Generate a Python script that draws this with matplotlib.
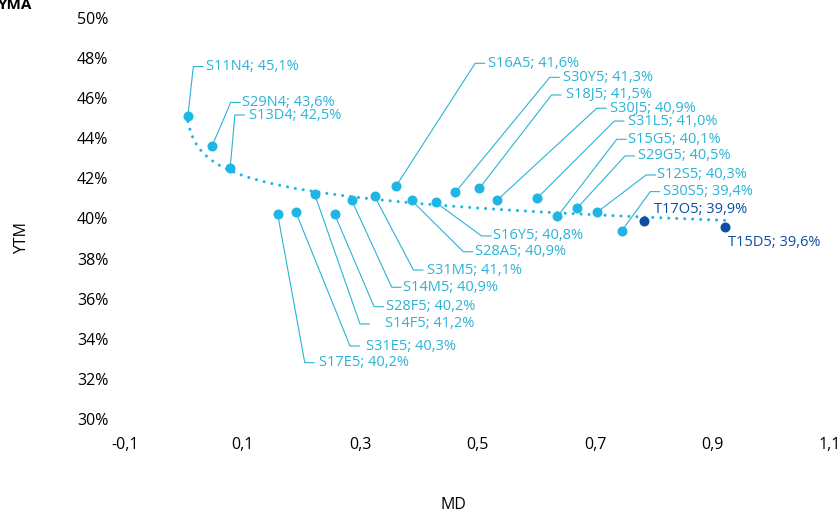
"""Scatter of YTM vs MD for bonds, with a log trendline and leader-line labels."""

import numpy as np
import matplotlib

matplotlib.use("Agg")
import matplotlib.pyplot as plt
from matplotlib.ticker import FuncFormatter, FixedLocator, MultipleLocator

plt.rcParams["font.family"] = ["Open Sans", "DejaVu Sans"]

# bonds (light blue series)
s_names = ["S11N4", "S29N4", "S13D4", "S17E5", "S31E5", "S14F5", "S28F5",
           "S14M5", "S31M5", "S16A5", "S28A5", "S16Y5", "S30Y5", "S18J5",
           "S30J5", "S31L5", "S15G5", "S29G5", "S12S5", "S30S5"]
s_md = [0.007, 0.048, 0.079, 0.160, 0.191, 0.223, 0.257, 0.286, 0.325,
        0.361, 0.388, 0.429, 0.462, 0.503, 0.533, 0.601, 0.636, 0.669,
        0.703, 0.746]
s_ytm = [45.1, 43.6, 42.5, 40.2, 40.3, 41.2, 40.2, 40.9, 41.1, 41.6, 40.9,
         40.8, 41.3, 41.5, 40.9, 41.0, 40.1, 40.5, 40.3, 39.4]

# second series (dark blue)
t_names = ["T17O5", "T15D5"]
t_md = [0.784, 0.921]
t_ytm = [39.9, 39.6]

x_ticks = [-0.1, 0.1, 0.3, 0.5, 0.7, 0.9, 1.1]

# label layout: text left x, text y, elbow x
s_label_pos = [
    (0.038, 47.58, 0.0163), (0.099, 45.79, 0.080), (0.111, 45.16, 0.087),
    (0.231, 32.81, 0.206), (0.311, 33.64, 0.283), (0.343, 34.74, 0.300),
    (0.345, 35.60, 0.324), (0.374, 36.57, 0.354), (0.414, 37.43, 0.391),
    (0.518, 47.74, 0.496), (0.496, 38.34, 0.476), (0.527, 39.13, 0.507),
    (0.646, 47.04, 0.623), (0.651, 46.16, 0.626), (0.726, 45.50, 0.703),
    (0.757, 44.86, 0.733), (0.757, 43.95, 0.737), (0.774, 43.12, 0.751),
    (0.806, 42.17, 0.787), (0.815, 41.34, 0.794),
]
t_label_pos = [(0.800, 40.46), (0.927, 38.79)]

LIGHT = "#1fb6e3"
LABEL = "#2bb3d6"
DARK = "#0b4ea2"


def pct(v, _pos):
    return f"{v:.0f}%"


def comma(v, _pos):
    return f"{v:.1f}".replace(".", ",")


fig = plt.figure(figsize=(8.4, 5.13), dpi=100)
ax = fig.add_axes([125 / 840, 1 - 419 / 513, 705 / 840, 401 / 513])

# log trendline fitted on all points
all_md = np.array(s_md + t_md)
all_ytm = np.array(s_ytm + t_ytm)
b, a = np.polyfit(np.log(all_md), all_ytm, 1)
xs = np.linspace(all_md.min(), all_md.max(), 200)
ax.plot(xs, a + b * np.log(xs), color=LIGHT, lw=2.2,
        linestyle=(0, (0.01, 2.6)), dash_capstyle="round", zorder=2)

ax.plot(s_md, s_ytm, "o", color=LIGHT, ms=7.2, mec="none", zorder=3)
ax.plot(t_md, t_ytm, "o", color=DARK, ms=7.2, mec="none", zorder=3)

hlen = 0.016
for name, x, y, (tx, ty, ex) in zip(s_names, s_md, s_ytm, s_label_pos):
    ax.plot([x, ex, ex + hlen], [y, ty, ty], color=LABEL, lw=0.8, zorder=1)
    ax.text(tx, ty, f"{name}; {y:.1f}%".replace(".", ","), color=LABEL,
            fontsize=10.5, ha="left", va="center")
for name, y, (tx, ty) in zip(t_names, t_ytm, t_label_pos):
    ax.text(tx, ty, f"{name}; {y:.1f}%".replace(".", ","), color=DARK,
            fontsize=10.5, ha="left", va="center")

ax.set_xlim(-0.1, 1.1)
ax.set_ylim(30, 50)
ax.xaxis.set_major_locator(FixedLocator(x_ticks))
ax.yaxis.set_major_locator(MultipleLocator(2))
ax.xaxis.set_major_formatter(FuncFormatter(comma))
ax.yaxis.set_major_formatter(FuncFormatter(pct))
ax.tick_params(length=0, labelsize=11.5, colors="black")
ax.tick_params(axis="x", pad=13)
ax.tick_params(axis="y", pad=12)
for spine in ax.spines.values():
    spine.set_visible(False)

fig.text(453 / 840, 1 - 505 / 513, "MD", fontsize=11.5, ha="center", va="center")
fig.text(22 / 840, 1 - 238 / 513, "YTM", fontsize=11.5, rotation=90,
         ha="center", va="center")
fig.text(-2 / 840, 1 - 5 / 513, "YMA", fontsize=11, fontweight="bold",
         ha="left", va="center")

fig.savefig("out.png", dpi=100)
